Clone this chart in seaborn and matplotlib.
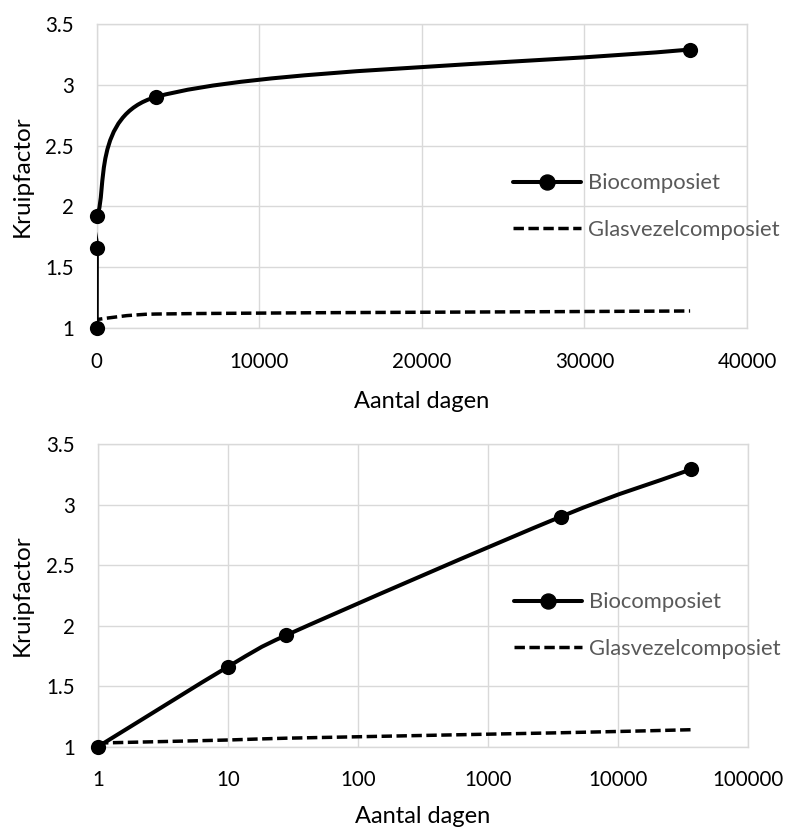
import numpy as np
import matplotlib
matplotlib.use("Agg")
import matplotlib.pyplot as plt
from matplotlib.path import Path
from matplotlib.patches import PathPatch
from matplotlib.lines import Line2D
import seaborn as sns

# creep factor readings (days since loading)
days = [1, 10, 28, 3650, 36500]
bio = [1.0, 1.66, 1.92, 2.90, 3.29]
glas = [1.03, 1.055, 1.07, 1.115, 1.14]
series_names = ["Biocomposiet", "Glasvezelcomposiet"]
y_ticks = [1, 1.5, 2, 2.5, 3, 3.5]
lin_ticks = [0, 10000, 20000, 30000, 40000]
log_ticks = [1, 10, 100, 1000, 10000, 100000]
log_labels = ["1", "10", "100", "1000", "10000", "100000"]

GRID = "#d9d9d9"
TEXT_GREY = "#595959"
DASH = (0, (3.0, 1.3))


def excel_smooth_path(ax, xs, ys):
    # Excel "smoothed line": bezier segments with control points picked in screen space
    pts = ax.transData.transform(np.column_stack([xs, ys]))
    n = len(pts)
    verts = [pts[0]]
    codes = [Path.MOVETO]
    for i in range(n - 1):
        p0 = pts[max(i - 1, 0)]
        p1 = pts[i]
        p2 = pts[i + 1]
        p3 = pts[min(i + 2, n - 1)]
        d12 = np.hypot(*(p2 - p1))
        d02 = np.hypot(*(p2 - p0))
        d13 = np.hypot(*(p3 - p1))
        f1 = 1 / 3 if i == 0 else 1 / 6
        f2 = 1 / 3 if i == n - 2 else 1 / 6
        if d02 * f1 > d12 / 2:
            f1 = d12 / 2 / d02
        if d13 * f2 > d12 / 2:
            f2 = d12 / 2 / d13
        verts += [p1 + f1 * (p2 - p0), p2 + f2 * (p1 - p3), p2]
        codes += [Path.CURVE4] * 3
    return Path(ax.transData.inverted().transform(np.array(verts)), codes)


sns.set_style("white")
plt.rcParams["font.family"] = ["Lato", "DejaVu Sans"]

fig = plt.figure(figsize=(7.85, 8.3), dpi=100)
ax_lin = fig.add_axes([0.1232, 0.6048, 0.8284, 0.3663])
ax_log = fig.add_axes([0.1248, 0.1004, 0.8280, 0.3647])

ax_log.set_xscale("log")
ax_lin.set_xlim(0, 40000)
ax_log.set_xlim(1, 100000)

for ax in (ax_lin, ax_log):
    ax.set_ylim(1, 3.5)
    ax.set_yticks(y_ticks)
    ax.set_yticklabels(["1", "1.5", "2", "2.5", "3", "3.5"])
    ax.grid(True, color=GRID, lw=1.0)
    ax.set_axisbelow(True)
    for sp in ax.spines.values():
        sp.set_color(GRID)
        sp.set_linewidth(1.0)
    ax.tick_params(axis="both", length=0, labelsize=14.8, colors="black")
    ax.tick_params(axis="y", pad=16.5)
    ax.tick_params(axis="x", pad=17)
    ax.set_xlabel("Aantal dagen", fontsize=17, color="black")
    ax.set_ylabel("Kruipfactor", fontsize=17.5, color="black")
    ax.yaxis.label.set_va("center")

ax_lin.set_xticks(lin_ticks)
ax_lin.set_xticklabels([str(t) for t in lin_ticks])
ax_log.set_xticks(log_ticks)
ax_log.set_xticklabels(log_labels)
ax_log.minorticks_off()

ax_lin.xaxis.set_label_coords(0.5, -0.208)
ax_log.xaxis.set_label_coords(0.5, -0.197)
ax_lin.yaxis.set_label_coords(-0.115, 0.5)
ax_log.yaxis.set_label_coords(-0.117, 0.5)

for ax in (ax_lin, ax_log):
    bio_path = excel_smooth_path(ax, days, bio)
    ax.add_patch(PathPatch(bio_path, fill=False, edgecolor="black", lw=2.9,
                           capstyle="round", joinstyle="round", zorder=3))
    glas_path = excel_smooth_path(ax, days, glas)
    ax.add_patch(PathPatch(glas_path, fill=False, edgecolor="black", lw=2.5,
                           linestyle=DASH, capstyle="butt", zorder=3))
    sns.scatterplot(x=days, y=bio, ax=ax, s=120, color="black", linewidth=0,
                    zorder=4, clip_on=False, legend=False)

    handles = [
        Line2D([], [], color="black", lw=2.9, marker="o", markersize=10.8),
        Line2D([], [], color="black", lw=2.5, linestyle=DASH),
    ]
    leg = ax.legend(handles, series_names, loc="center left",
                    bbox_to_anchor=(0.64, 0.40), frameon=False, fontsize=15.8,
                    handlelength=3.1, handletextpad=0.33, labelspacing=1.2,
                    borderpad=0, borderaxespad=0)
    for t in leg.get_texts():
        t.set_color(TEXT_GREY)

fig.savefig("out.png", dpi=100)
